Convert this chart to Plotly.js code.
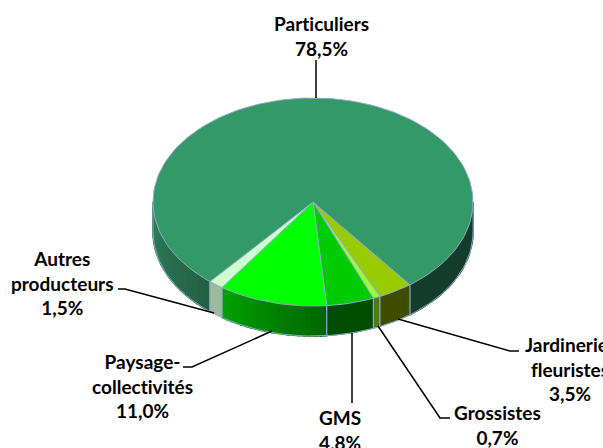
<!DOCTYPE html>
<html>
<head>
<meta charset="utf-8">
<script src="https://cdn.plot.ly/plotly-3.0.1.min.js"></script>
<style>html,body{margin:0;padding:0;background:#fff;overflow:hidden}#chart{width:603px;height:448px}text{font-variant-ligatures:none;font-feature-settings:"liga" 0,"clig" 0;letter-spacing:0.01px}</style>
</head>
<body>
<div id="chart"></div>
<script>
// Data, in clockwise drawing order from the start of the first slice
var categories = ["Jardinerie-<br>fleuristes", "Grossistes", "GMS", "Paysage-<br>collectivités", "Autres<br>producteurs", "Particuliers"];
var values = [3.5, 0.7, 4.8, 11.0, 1.5, 78.5];
var valueLabels = ["3,5%", "0,7%", "4,8%", "11,0%", "1,5%", "78,5%"];
var topColors = ["#99cc00", "#99ff33", "#00cc00", "#00ff00", "#ccffcc", "#339966"];
var labelX = [570, 497, 340, 142, 62, 321];
var labelY = [369, 425, 430, 386, 283, 36];
var leaderX = [[398,510,519],[378,440,450],[352,352],[272,192,183],[214,125,118],[316,316]];
var leaderY = [[319,351,351],[326,418,418],[333,403],[331,367,367],[313,289,289],[98,60]];

var cx = 313, cy = 202, rx = 160, ry = 104, depth = 30, startT = 37.3;
var edge = "#8fa9cc";
function px(t){return cx + rx*Math.sin(t*Math.PI/180);}
function py(t,d){return cy + ry*Math.cos(t*Math.PI/180) + (d||0);}
function hex(c){return [1,3,5].map(function(i){return parseInt(c.substr(i,2),16);});}
function mix(a,b,f){var A=hex(a),B=hex(b);return "rgb("+A.map(function(v,i){return Math.round(v+(B[i]-v)*f);}).join(",")+")";}
function poly(xs,ys,fill,line,w){
  return {type:"scatter",mode:"lines",x:xs,y:ys,fill:"toself",fillcolor:fill,
    line:{color:line||fill,width:w===undefined?1.6:w},hoverinfo:"skip",showlegend:false};
}
function arc(a,b,n){var r=[];for(var i=0;i<=n;i++)r.push(a+(b-a)*i/n);return r;}
function sidePoly(a,b,fill,line,w){
  var T=arc(a,b,Math.max(2,Math.ceil(Math.abs(b-a)/3)));
  var xs=T.map(px),ys=T.map(function(t){return py(t);});
  var R=T.slice().reverse();
  xs=xs.concat(R.map(px));ys=ys.concat(R.map(function(t){return py(t,depth);}));
  xs.push(xs[0]);ys.push(ys[0]);
  return poly(xs,ys,fill,line,w);
}
// side gradients per slice: [left colour, right colour] across the visible wall
var sideStart = ["#404d00","#4d7a1a","#004d00","#00a000","#9dbb99","#2f8058"];
var sideEnd   = ["#404d00","#4d7a1a","#004d00","#006400","#9dbb99","#225f45"];
var traces = [];
// wall: back-to-front, only the front half of the ellipse can be seen
var total = values.reduce(function(a,b){return a+b;},0);
var bounds=[startT];
values.forEach(function(v,i){bounds.push(bounds[i]-v/total*360);});
// right part of the largest slice
var n=values.length-1;
(function(){
  var strips=16, a=bounds[n], b=-90;
  for(var s=0;s<strips;s++){
    var t0=a+(b-a)*s/strips,t1=a+(b-a)*(s+1)/strips;
    traces.push(sidePoly(t0,t1,mix(sideEnd[n],sideStart[n],(s+0.5)/strips)));
  }
  traces.push(sidePoly(bounds[0],90,"#143c2a"));
})();
values.forEach(function(v,i){
  if(i===n)return;
  var strips=sideStart[i]===sideEnd[i]?1:20,a=bounds[i],b=bounds[i+1];
  for(var s=0;s<strips;s++){
    var t0=a+(b-a)*s/strips,t1=a+(b-a)*(s+1)/strips;
    // colours run from left of the wall to its right
    traces.push(sidePoly(t0,t1,mix(sideEnd[i],sideStart[i],(s+0.5)/strips),null,strips===1?0.8:1.6));
  }
});
// outline of the wall
(function(){
  var T=arc(-90,90,90);
  traces.push({type:"scatter",mode:"lines",x:T.map(px),y:T.map(function(t){return py(t,depth);}),
    line:{color:edge,width:1},hoverinfo:"skip",showlegend:false});
  [-90,90].forEach(function(t){
    traces.push({type:"scatter",mode:"lines",x:[px(t),px(t)],y:[py(t),py(t,depth)],
      line:{color:edge,width:0.8},hoverinfo:"skip",showlegend:false});
  });
  bounds.slice(0,n+1).forEach(function(t){
    traces.push({type:"scatter",mode:"lines",x:[px(t),px(t)],y:[py(t),py(t,depth)],
      line:{color:edge,width:1.2},hoverinfo:"skip",showlegend:false});
  });
})();
// top faces
values.forEach(function(v,i){
  var T=arc(bounds[i],bounds[i+1],Math.max(2,Math.ceil(Math.abs(v/total*360)/2)));
  var xs=[cx].concat(T.map(px),[cx]);
  var ys=[cy].concat(T.map(function(t){return py(t);}),[cy]);
  traces.push(poly(xs,ys,topColors[i],edge,1));
});
// leader lines
leaderX.forEach(function(lx,i){
  traces.push({type:"scatter",mode:"lines",x:lx,y:leaderY[i],line:{color:"#000",width:1.5},
    hoverinfo:"skip",showlegend:false});
});
var annotations=categories.map(function(c,i){
  return {x:labelX[i],y:labelY[i],xref:"x",yref:"y",xanchor:"center",yanchor:"middle",
    showarrow:false,align:"center",text:"<b>"+c+"<br>"+valueLabels[i]+"</b>",
    font:{family:"Lato, Carlito, sans-serif",size:19,color:"#000"}};
});
Plotly.newPlot("chart",traces,{
  width:603,height:448,margin:{l:0,r:0,t:0,b:0},paper_bgcolor:"#fff",plot_bgcolor:"#fff",
  showlegend:false,annotations:annotations,
  xaxis:{range:[0,603],visible:false,fixedrange:true},
  yaxis:{range:[448,0],visible:false,fixedrange:true}
},{displayModeBar:false,staticPlot:true});
</script>
</body>
</html>
